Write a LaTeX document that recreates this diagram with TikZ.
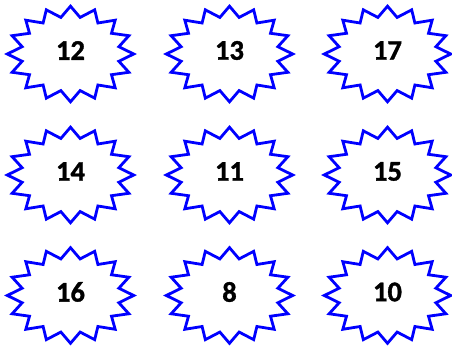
\documentclass[tikz,border=0pt]{standalone}
\usepackage{fontspec}
\setmainfont{Carlito}[BoldFeatures={FakeBold=1.2}]
\begin{document}
\begin{tikzpicture}[x=1pt,y=1pt,
  starline/.style={draw=blue, line width=2.8pt, line join=miter, fill=white},
  lbl/.style={font=\bfseries\fontsize{28.5}{28.5}\selectfont, inner sep=0pt, text=black}]
\useasboundingbox (0,0) rectangle (452,347);
\foreach \n/\x/\y/\t in {a/70.5/293/12, b/229.5/293/13, c/387.5/293/17,
                          d/70.5/172/14, e/229.5/172/11, f/387.5/172/15,
                          g/70.5/51.5/16, h/229.5/51.5/8, i/387.5/51.5/10}{
  \coordinate (c\n) at (\x,\y);
  \draw[starline, shift={(c\n)}] plot[samples=32, domain=0:31, variable=\k]
     ({63.2*(0.89+0.11*cos(180*\k))*cos(90+11.25*\k)},
      {47.8*(0.89+0.11*cos(180*\k))*sin(90+11.25*\k)}) -- cycle;
  \node[lbl] (\n) at ([yshift=3.5]c\n) {\t};
}
\end{tikzpicture}
\end{document}
